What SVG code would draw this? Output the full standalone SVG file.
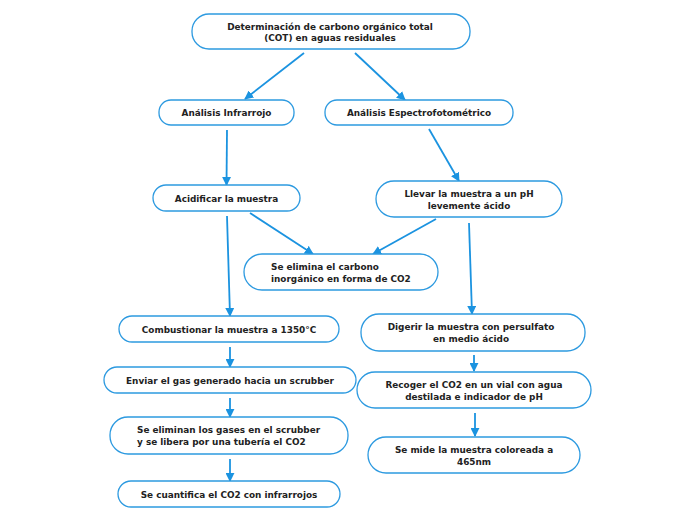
<svg xmlns="http://www.w3.org/2000/svg" width="696" height="520" viewBox="0 0 696 520">
<style>
.n rect{fill:#fff;stroke:#2d9ae0;stroke-width:1.3}
.n text{font-family:"DejaVu Sans",sans-serif;font-weight:bold;font-size:8.9px;fill:#222}
.c{text-anchor:middle}
#edges line{stroke:#1b93e0;stroke-width:1.8}
</style>
<defs>
<marker id="ah" viewBox="0 0 10 10" refX="9" refY="5" markerWidth="5" markerHeight="5" orient="auto" markerUnits="strokeWidth">
<path d="M0,0 L10,5 L0,10 z" fill="#1b93e0"/>
</marker>
</defs>
<rect width="696" height="520" fill="#fff"/>
<g id="edges">
<line x1="304" y1="53" x2="245" y2="99" marker-end="url(#ah)"/>
<line x1="355" y1="53" x2="405" y2="100" marker-end="url(#ah)"/>
<line x1="227" y1="130" x2="226.5" y2="185" marker-end="url(#ah)"/>
<line x1="429" y1="129" x2="459" y2="181" marker-end="url(#ah)"/>
<line x1="250" y1="213" x2="313" y2="254" marker-end="url(#ah)"/>
<line x1="436" y1="219" x2="373" y2="254" marker-end="url(#ah)"/>
<line x1="227" y1="216" x2="230" y2="316" marker-end="url(#ah)"/>
<line x1="469" y1="223" x2="472" y2="314" marker-end="url(#ah)"/>
<line x1="230" y1="347" x2="230" y2="367" marker-end="url(#ah)"/>
<line x1="230" y1="398" x2="230" y2="417" marker-end="url(#ah)"/>
<line x1="230" y1="459" x2="230" y2="481" marker-end="url(#ah)"/>
<line x1="474" y1="355" x2="474" y2="371" marker-end="url(#ah)"/>
<line x1="475" y1="413" x2="475" y2="436" marker-end="url(#ah)"/>
</g>
<g id="n1" class="n"><rect x="192" y="14" width="278" height="35" rx="17"/><text class="c" x="330" y="30">Determinación de carbono orgánico total</text><text class="c" x="330" y="41">(COT) en aguas residuales</text></g>
<g id="n2" class="n"><rect x="159" y="100" width="135" height="25" rx="12"/><text class="c" x="226.5" y="115.5">Análisis Infrarrojo</text></g>
<g id="n3" class="n"><rect x="325" y="100" width="188" height="25" rx="12"/><text class="c" x="419" y="115.5">Análisis Espectrofotométrico</text></g>
<g id="n4" class="n"><rect x="153" y="185" width="147" height="26" rx="13"/><text class="c" x="226.5" y="201.5">Acidificar la muestra</text></g>
<g id="n5" class="n"><rect x="376" y="181" width="186" height="36" rx="18"/><text class="c" x="469" y="197">Llevar la muestra a un pH</text><text class="c" x="469" y="208.5">levemente ácido</text></g>
<g id="n6" class="n"><rect x="244" y="254" width="194" height="36" rx="18"/><text x="271" y="270">Se elimina el carbono</text><text x="271" y="281.5">inorgánico en forma de CO2</text></g>
<g id="n7" class="n"><rect x="119" y="316" width="220" height="26" rx="13"/><text class="c" x="229" y="332.5">Combustionar la muestra a 1350°C</text></g>
<g id="n8" class="n"><rect x="104" y="367" width="252" height="26" rx="13"/><text class="c" x="230" y="383.5">Enviar el gas generado hacia un scrubber</text></g>
<g id="n9" class="n"><rect x="110" y="417" width="238" height="37" rx="18"/><text x="137" y="433">Se eliminan los gases en el scrubber</text><text x="137" y="444.5">y se libera por una tubería el CO2</text></g>
<g id="n10" class="n"><rect x="118" y="481" width="222" height="26" rx="13"/><text class="c" x="229" y="497.5">Se cuantifica el CO2 con infrarrojos</text></g>
<g id="n11" class="n"><rect x="361" y="314" width="224" height="37" rx="18"/><text class="c" x="471" y="330">Digerir la muestra con persulfato</text><text class="c" x="471" y="341.5">en medio ácido</text></g>
<g id="n12" class="n"><rect x="357" y="372" width="234" height="36" rx="18"/><text class="c" x="474" y="388">Recoger el CO2 en un vial con agua</text><text class="c" x="474" y="399.5">destilada e indicador de pH</text></g>
<g id="n13" class="n"><rect x="368" y="437" width="212" height="36" rx="18"/><text class="c" x="474" y="453">Se mide la muestra coloreada a</text><text class="c" x="474" y="464.5">465nm</text></g>
</svg>
